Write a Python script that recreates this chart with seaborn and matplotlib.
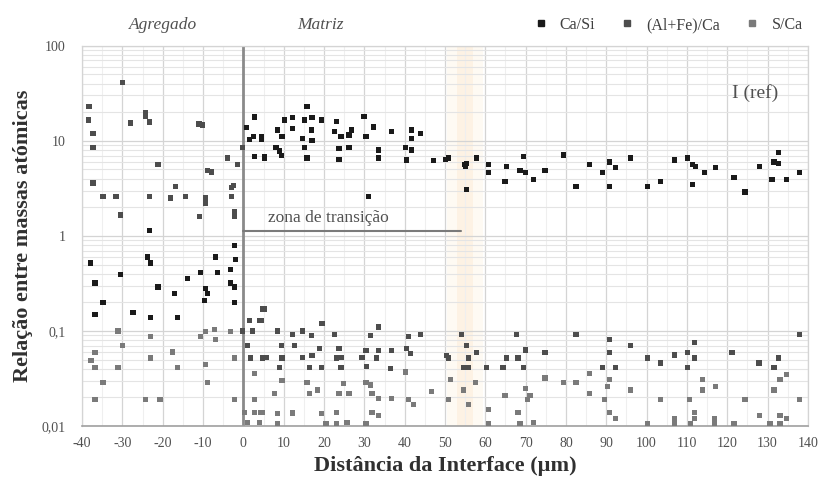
import numpy as np
import pandas as pd
import matplotlib
matplotlib.use("Agg")
import matplotlib.pyplot as plt
from matplotlib.ticker import FixedLocator, LogLocator, NullFormatter, MultipleLocator
from matplotlib.lines import Line2D
import seaborn as sns

# ---------------- data ----------------
series_names = ["Ca/Si", "(Al+Fe)/Ca", "S/Ca"]

ca_si_x = [2.7, 0.7, 2.5, 1.5, 4.5, 2.7, 5.2,
           15.8, 10.1, 12.1, 15.1, 17.0, 19.3, 23.0, 29.9,
           8.4, 12.1, 16.8, 22.5, 26.9, 32.3, 36.8, 41.7, 44.0,
           4.4, 9.6, 14.6, 17.0, 24.2, 26.2, 30.4, 41.7,
           8.1, 8.9, 15.1, 23.7, 26.2, 33.6, 40.2, 41.7,
           5.2, 9.4, 15.8, 23.7, 33.6, 40.5, 47.2, 50.1,
           31.1,
           50.9, 54.8, 55.3, 55.0, 57.8, 55.3, 60.7, 60.7, 65.2, 69.4, 68.6, 69.9,
           71.9, 64.9, 74.8, 79.3, 82.5, 85.9, 90.9, 92.3, 89.1, 90.9, 96.0,
           106.9, 110.1, 111.4, 112.1, 114.3, 117.0, 100.2, 103.5, 111.4,
           121.7, 124.4, 128.1, 132.8, 131.6, 132.8, 131.1, 134.8, 138.0,
           -23.2, -2.2, -2.0, -3.2, -6.4, -10.6, -7.0, -23.7, -23.0, -38.0,
           -30.4, -13.8, -36.8, -21.2, -17.0, -9.4, -8.9, -9.6, -3.2, -2.2,
           -34.8, -2.2, -36.8, -27.4, -23.0, -16.3]
ca_si_y = [17.8, 13.8, 11.0, 10.3, 10.3, 6.8, 6.8,
           23, 16.6, 17.5, 16.6, 17.5, 16.6, 16, 18,
           13, 13.5, 13, 12.5, 13, 14, 12.5, 13, 12,
           11, 11, 10.5, 10, 11, 11.5, 11, 10.5,
           8.5, 7.8, 8.5, 8.3, 8.5, 8.0, 8.5, 8.0,
           6.6, 7.0, 6.6, 6.4, 6.6, 6.3, 6.2, 6.4,
           2.6,
           6.6, 5.6, 5.8, 5.4, 6.6, 3.1, 5.6, 4.6, 5.4, 6.8, 4.9, 4.6,
           3.9, 3.7, 4.9, 7.1, 3.3, 5.6, 6.0, 5.2, 4.6, 3.3, 6.6,
           6.3, 6.6, 5.6, 5.4, 4.6, 5.2, 3.3, 3.7, 3.5,
           4.1, 2.9, 5.4, 7.6, 6.0, 5.8, 3.9, 3.9, 4.6,
           1.15, 0.80, 0.56, 0.44, 0.41, 0.41, 0.60, 0.60, 0.52, 0.52,
           0.39, 0.36, 0.32, 0.29, 0.25, 0.28, 0.25, 0.21, 0.32, 0.29,
           0.20, 0.20, 0.15, 0.155, 0.14, 0.14]

alfe_ca_x = [-29.9, -38.3, -38.5, -24.2, -24.2, -27.9, -23.2, -10.1, -11.0, -37.3,
             -37.3, -21.2, -8.9, -8.0, -1.5, -4.0, -0.3, -37.3, -16.8, -34.8,
             -31.6, -23.2, -18.0, -14.3, -9.4, -9.4, -3.0, -2.5, -3.0, -30.4,
             -10.9, -2.2, -2.2,
             4.7, 1.5, 4.0, -0.3, 2.2, 1.0, 1.7, 4.7,
             5.2, 4.4, 19.5, 33.6, 8.4, 12.1, 14.6, 16.8, 22.5, 31.6, 41.0, 44.0,
             9.4, 12.6, 18.8, 23.7, 30.4, 33.6, 36.8, 40.5, 41.5, 50.4,
             5.7, 9.6, 14.6, 17.0, 23.0, 24.2, 29.4, 33.1,
             8.9, 16.3, 19.3, 24.2, 30.6, 36.5,
             54.1, 67.7, 82.5, 90.9, 96.0, 55.3, 57.8, 69.9, 74.8, 90.9, 50.9,
             55.8, 65.2, 68.1, 54.6, 55.8, 60.2, 64.4, 69.4, 89.1, 92.3,
             111.9, 138.0, 100.2, 103.5, 106.9, 110.1, 111.9, 121.2, 110.1,
             127.9, 132.8, 131.6]
alfe_ca_y = [41, 23, 16.6, 20, 18, 15.4, 15.8, 14.7, 15, 12,
             8.5, 5.6, 4.9, 4.7, 5.6, 6.6, 8.5, 3.6, 3.3, 2.6,
             2.6, 2.6, 2.5, 2.6, 2.5, 2.2, 3.2, 3.4, 2.6, 1.66,
             1.6, 1.8, 1.6,
             0.17, 0.13, 0.13, 0.10, 0.10, 0.07, 0.052, 0.052,
             0.17, 0.13, 0.12, 0.11, 0.10, 0.092, 0.10, 0.09, 0.092, 0.09, 0.088, 0.092,
             0.07, 0.07, 0.066, 0.065, 0.062, 0.062, 0.062, 0.066, 0.058, 0.055,
             0.053, 0.052, 0.053, 0.055, 0.052, 0.053, 0.053, 0.052,
             0.041, 0.041, 0.041, 0.041, 0.042, 0.040,
             0.091, 0.091, 0.091, 0.081, 0.07, 0.07, 0.059, 0.063, 0.059, 0.059, 0.052,
             0.052, 0.052, 0.052, 0.041, 0.041, 0.041, 0.041, 0.041, 0.041, 0.041,
             0.076, 0.091, 0.052, 0.046, 0.056, 0.059, 0.052, 0.059, 0.041,
             0.046, 0.052, 0.041]

s_ca_x = [-31.1, -29.9, -23.0, -10.6, -9.4, -7.2, -6.9, -3.2, -36.8, -37.8,
          -36.8, -31.1, -34.8, -23.0, -17.5, -16.3, -9.4, -8.9, -2.2, -36.8,
          -24.2, -20.7, -2.2,
          2.7, 2.7, 0.2, 2.7, 4.2, 1.0, 4.0,
          40.2, 9.6, 15.8, 24.9, 30.4, 31.6,
          7.7, 16.3, 18.3, 23.7, 26.2, 31.9, 33.6, 36.8, 41.0, 46.7, 42.2,
          4.7, 8.4, 12.1, 19.3, 23.0, 31.9, 33.6,
          8.4, 20.5, 23.0, 25.7, 30.4,
          85.9, 51.4, 57.5, 74.8, 79.3, 82.5, 90.9, 90.4, 54.6, 69.9, 71.1,
          70.5, 64.9, 85.9, 89.6, 50.9, 55.8, 60.7, 68.1, 90.9, 92.3, 60.7,
          68.6, 71.9,
          134.8, 133.1, 131.6, 113.8, 113.8, 117.0, 96.0, 103.5, 110.6, 124.4,
          138.0, 111.9, 111.9, 106.9, 116.8, 128.1, 133.1, 134.8, 100.2, 106.9,
          110.9, 116.8, 121.7, 130.6, 133.1]
s_ca_y = [0.10, 0.071, 0.087, 0.087, 0.098, 0.103, 0.082, 0.098, 0.059, 0.049,
          0.041, 0.041, 0.029, 0.052, 0.060, 0.041, 0.044, 0.029, 0.052, 0.019,
          0.019, 0.019, 0.019,
          0.036, 0.019, 0.014, 0.014, 0.014, 0.011, 0.011,
          0.037, 0.030, 0.029, 0.028, 0.029, 0.027,
          0.022, 0.022, 0.024, 0.022, 0.022, 0.022, 0.0196, 0.0196, 0.019, 0.023, 0.017,
          0.014, 0.0135, 0.0137, 0.0135, 0.014, 0.014, 0.013,
          0.0105, 0.0105, 0.0105, 0.011, 0.0105,
          0.036, 0.031, 0.029, 0.032, 0.029, 0.029, 0.031, 0.026, 0.024, 0.025, 0.021,
          0.019, 0.021, 0.022, 0.019, 0.019, 0.017, 0.015, 0.014, 0.014, 0.012, 0.0105,
          0.0105, 0.011,
          0.035, 0.031, 0.024, 0.031, 0.024, 0.026, 0.024, 0.019, 0.019, 0.019,
          0.019, 0.014, 0.012, 0.012, 0.012, 0.013, 0.013, 0.012, 0.0105, 0.0105,
          0.0105, 0.0105, 0.0105, 0.0105, 0.0105]

x_ticks = list(range(-40, 141, 10))
y_ticks = [0.01, 0.1, 1, 10, 100]
y_tick_labels = ["0,01", "0,1", "1", "10", "100"]

# ---------------- build table ----------------
df = pd.concat([
    pd.DataFrame({"x": ca_si_x, "y": ca_si_y, "serie": series_names[0]}),
    pd.DataFrame({"x": alfe_ca_x, "y": alfe_ca_y, "serie": series_names[1]}),
    pd.DataFrame({"x": s_ca_x, "y": s_ca_y, "serie": series_names[2]}),
], ignore_index=True)

sns.set_style("white")
plt.rcParams["font.family"] = ["Liberation Serif", "DejaVu Serif"]

fig = plt.figure(figsize=(8.21, 4.92), dpi=100)
ax = fig.add_axes([0.100, 0.134, 0.884, 0.773])

palette = {"Ca/Si": "#1a1a1a", "(Al+Fe)/Ca": "#4d4d4d", "S/Ca": "#7a7a7a"}

# background elements (faint orange band around ~55 µm)
ax.axvspan(50.5, 59.5, color="#fefaf3", zorder=0, lw=0)
ax.axvspan(53.0, 57.0, color="#fdf2e4", zorder=0, lw=0)

sns.scatterplot(data=df, x="x", y="y", hue="serie", palette=palette,
                marker="s", s=14, linewidth=0, ax=ax, legend=False, zorder=3)

ax.set_yscale("log")
ax.set_xlim(-40, 140)
ax.set_ylim(0.01, 100)

ax.xaxis.set_major_locator(FixedLocator(x_ticks))
ax.xaxis.set_minor_locator(MultipleLocator(5))
ax.set_xticklabels([str(t) for t in x_ticks])
ax.yaxis.set_major_locator(FixedLocator(y_ticks))
ax.set_yticklabels(y_tick_labels)
ax.yaxis.set_minor_locator(LogLocator(base=10, subs=np.arange(2, 10)))
ax.yaxis.set_minor_formatter(NullFormatter())

ax.grid(which="major", axis="both", color="#d4d4d4", lw=0.9, zorder=0)
ax.grid(which="minor", axis="y", color="#e4e4e4", lw=0.8, zorder=0)
ax.grid(which="minor", axis="x", color="#efefef", lw=0.8, zorder=0)
ax.set_axisbelow(True)

for side in ["top", "right", "left"]:
    ax.spines[side].set_color("#d4d4d4")
    ax.spines[side].set_linewidth(0.9)
ax.spines["bottom"].set_color("#a0a0a0")
ax.spines["bottom"].set_linewidth(1.2)

ax.tick_params(axis="x", which="major", direction="out", length=4, color="#a0a0a0",
               labelsize=10, labelcolor="#505050", pad=4)
ax.tick_params(axis="x", which="minor", length=0)
ax.tick_params(axis="y", which="both", length=0, labelsize=10, labelcolor="#505050", pad=12)

# interface line and transition zone
ax.axvline(0, color="#8a8a8a", lw=2, zorder=2)
ax.plot([0, 54], [1.13, 1.13], color="#7a7a7a", lw=1.5, zorder=2)
ax.text(21, 1.55, "zona de transição", ha="center", va="center", fontsize=12.5, color="#505050")
ax.text(127, 32, "I (ref)", ha="center", va="center", fontsize=14, color="#505050")

ax.set_xlabel("Distância da Interface (µm)", fontsize=16, fontweight="bold", color="#303030", labelpad=4)
ax.set_ylabel("Relação entre massas atómicas", fontsize=16, fontweight="bold", color="#303030", labelpad=6)

# region labels above plot
fig.text(163 / 821, 1 - 25 / 492, "Agregado", ha="center", va="center", fontsize=12.5,
         style="italic", color="#505050")
fig.text(320 / 821, 1 - 25 / 492, "Matriz", ha="center", va="center", fontsize=12.5,
         style="italic", color="#505050")

# legend
handles = [Line2D([], [], marker="s", ls="", color=palette[n], markersize=4) for n in series_names]
fig.legend(handles, series_names, loc="center right", bbox_to_anchor=(0.995, 1 - 25 / 492),
           ncol=3, frameon=False, fontsize=11.5, handletextpad=0.2, columnspacing=1.0,
           labelcolor="#404040")

fig.savefig("out.png", dpi=100)
